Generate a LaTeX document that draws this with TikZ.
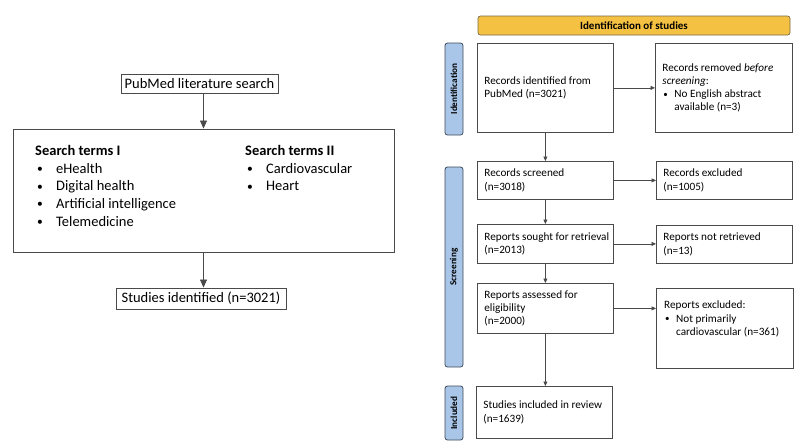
\documentclass[tikz,border=0pt]{standalone}
\usepackage{fontspec}
\setmainfont{Carlito}
\usetikzlibrary{arrows.meta}
\definecolor{boxline}{HTML}{4A4A4A}
\definecolor{hdrfill}{HTML}{F5C142}
\definecolor{hdrline}{HTML}{7A6A45}
\definecolor{barfill}{HTML}{A9C6E8}
\definecolor{barline}{HTML}{3E4A5A}
\newcommand{\smbul}{\raisebox{0.5pt}{\scalebox{0.8}{\textbullet}}}
\newcommand{\lbul}{\hspace*{2pt}\makebox[19pt][l]{\smbul}}
\newcommand{\rbul}{\hspace*{1pt}\makebox[11pt][l]{\smbul}}
\begin{document}
\begin{tikzpicture}[x=1pt,y=-1pt,
  lbox/.style={draw=boxline, line width=0.9pt, font=\fontsize{14.5}{17.7}\selectfont, inner sep=0pt},
  ltext/.style={anchor=north west, inner sep=0pt, align=left, font=\fontsize{14.5}{17.7}\selectfont},
  rbox/.style={draw=boxline, line width=0.8pt, anchor=north west, align=flush left, inner xsep=7pt, inner ysep=0pt, font=\fontsize{11.2}{13.3}\selectfont},
  rtext/.style={anchor=north west, inner sep=0pt, align=left, font=\fontsize{11.2}{13.3}\selectfont},
  bar/.style={draw=barline, fill=barfill, rounded corners=2.5pt, rotate=90, font=\bfseries\fontsize{9.2}{10}\selectfont, inner sep=0pt, line width=0.8pt, minimum height=18pt},
  larrow/.style={-{Triangle[length=8pt,width=7pt]}, line width=0.8pt, draw=boxline},
  rarrow/.style={-{Triangle[length=4.5pt,width=4pt]}, line width=0.6pt, draw=boxline}]
\useasboundingbox (0,0) rectangle (800,447);

% ---------- left ----------
\node[lbox, minimum width=157pt, minimum height=19pt] (pub) at (199.5,83.5) {PubMed literature search};
\node[lbox, minimum width=381pt, minimum height=123pt] (terms) at (203.5,190.5) {};
\node[lbox, minimum width=170pt, minimum height=21pt] (found) at (201,298.5) {Studies identified (n=3021)};
\node[ltext] (termsA) at (35,145) {\textbf{Search terms I}\\ \lbul eHealth\\ \lbul Digital health\\ \lbul Artificial intelligence\\ \lbul Telemedicine};
\node[ltext] (termsB) at (245,145) {\textbf{Search terms II}\\ \lbul Cardiovascular\\ \lbul Heart};
\draw[larrow] (pub.south -| terms.north) -- (terms.north);
\draw[larrow] (terms.south) -- (found.north -| terms.south);

% ---------- right ----------
\node[draw=hdrline, fill=hdrfill, rounded corners=2.5pt, minimum width=312pt, minimum height=19pt, inner sep=0pt, line width=0.7pt, font=\bfseries\fontsize{11}{12}\selectfont] (hdr) at (634,25.5) {Identification of studies};

\node[bar, minimum width=92pt] (bid) at (454,89) {Identification};
\node[bar, minimum width=200pt] (bsc) at (454,267) {Screening};
\node[bar, minimum width=54pt] (binc) at (454,413) {Included};

\node[rbox, minimum width=136pt, minimum height=89pt, text width=122pt] (ident) at (477,43) {Records identified from\\PubMed (n=3021)};
\node[rbox, minimum width=137pt, minimum height=89pt, text width=123pt] (removed) at (655,43) {Records removed \textit{before}\\\textit{screening}:\\\rbul No English abstract\\\hspace*{12pt}available (n=3)};
\node[rbox, minimum width=136pt, minimum height=38pt, text width=122pt] (screened) at (477,161) {Records screened\\(n=3018)};
\node[rbox, minimum width=136pt, minimum height=38pt, text width=122pt] (excl) at (656,161) {Records excluded\\(n=1005)};
\node[rbox, minimum width=136pt, minimum height=39pt, text width=122pt] (sought) at (477,224) {\makebox[122pt][l]{Reports sought for retrieval}\\(n=2013)};
\node[rbox, minimum width=136pt, minimum height=38pt, text width=122pt] (notret) at (656,225) {Reports not retrieved\\(n=13)};
\node[rbox, minimum width=136pt, minimum height=50pt, text width=122pt] (assessed) at (477,283) {Reports assessed for\\eligibility\\(n=2000)};
\node[rbox, minimum width=137pt, minimum height=80pt, text width=123pt] (repexcl) at (656,288) {};
\node[rtext] (repexcltext) at (664,301) {Reports excluded:\\\rbul Not primarily\\\hspace*{12pt}cardiovascular (n=361)};
\node[rbox, minimum width=136pt, minimum height=52pt, text width=122pt] (incl) at (476,386) {Studies included in review\\(n=1639)};

\draw[rarrow] (ident.south) -- (screened.north);
\draw[rarrow] (screened.south) -- (sought.north);
\draw[rarrow] (sought.south) -- (assessed.north);
\draw[rarrow] (assessed.south) -- (incl.north -| assessed.south);
\draw[rarrow] (ident.east) -- (ident.east -| removed.west);
\draw[rarrow] (screened.east) -- (screened.east -| excl.west);
\draw[rarrow] (sought.east) -- (sought.east -| notret.west);
\draw[rarrow] (assessed.east) -- (assessed.east -| repexcl.west);
\end{tikzpicture}
\end{document}
